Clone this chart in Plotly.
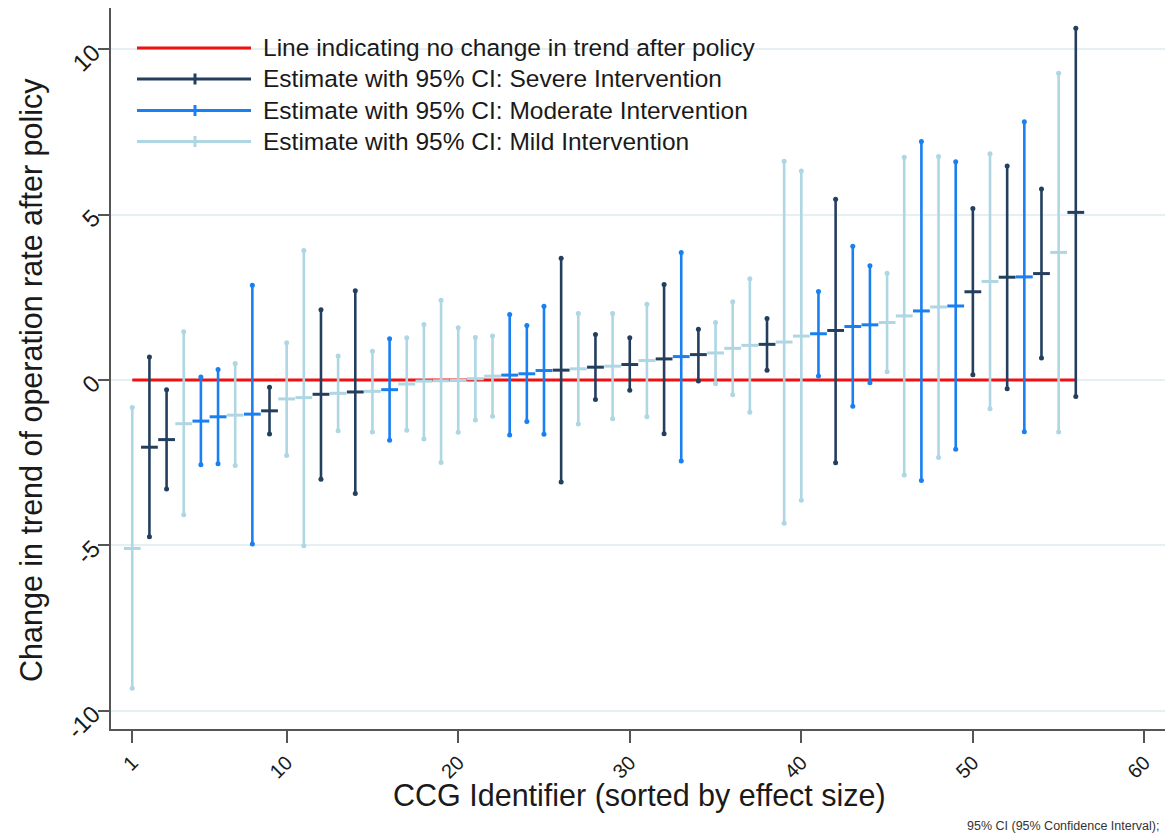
import plotly.graph_objects as go

# CCG-level policy effect estimates with 95% confidence intervals,
# sorted by effect size.
ccg_id = list(range(1, 57))
intensity = [
    "Mild", "Severe", "Severe", "Mild", "Moderate", "Moderate", "Mild", "Moderate",
    "Severe", "Mild", "Mild", "Severe", "Mild", "Severe", "Mild", "Moderate",
    "Mild", "Mild", "Mild", "Mild", "Mild", "Mild", "Moderate", "Moderate",
    "Moderate", "Severe", "Mild", "Severe", "Mild", "Severe", "Mild", "Severe",
    "Moderate", "Severe", "Mild", "Mild", "Mild", "Severe", "Mild", "Mild",
    "Moderate", "Severe", "Moderate", "Moderate", "Mild", "Mild", "Moderate", "Mild",
    "Moderate", "Severe", "Mild", "Severe", "Moderate", "Severe", "Mild", "Severe",
]
estimate = [
    -5.09, -2.03, -1.80, -1.32, -1.24, -1.11, -1.06, -1.03,
    -0.93, -0.57, -0.53, -0.43, -0.40, -0.36, -0.34, -0.29,
    -0.12, -0.03, -0.02, -0.01, 0.04, 0.12, 0.15, 0.19,
    0.29, 0.30, 0.34, 0.39, 0.42, 0.47, 0.59, 0.64,
    0.71, 0.77, 0.82, 0.96, 1.05, 1.08, 1.15, 1.33,
    1.40, 1.50, 1.62, 1.67, 1.74, 1.94, 2.09, 2.21,
    2.24, 2.67, 2.98, 3.11, 3.12, 3.22, 3.86, 5.07,
]
ci_lower = [
    -9.32, -4.74, -3.29, -4.07, -2.56, -2.53, -2.58, -4.96,
    -1.63, -2.28, -5.01, -3.00, -1.53, -3.43, -1.57, -1.82,
    -1.52, -1.78, -2.49, -1.58, -1.21, -1.09, -1.66, -1.25,
    -1.64, -3.08, -1.33, -0.59, -1.17, -0.31, -1.11, -1.62,
    -2.45, -0.03, -0.11, -0.44, -0.97, 0.30, -4.33, -3.63,
    0.12, -2.50, -0.79, -0.08, 0.25, -2.87, -3.04, -2.34,
    -2.09, 0.16, -0.87, -0.26, -1.56, 0.67, -1.57, -0.50,
]
ci_upper = [
    -0.83, 0.70, -0.29, 1.46, 0.09, 0.32, 0.50, 2.87,
    -0.22, 1.13, 3.92, 2.13, 0.73, 2.70, 0.87, 1.25,
    1.28, 1.68, 2.41, 1.58, 1.29, 1.33, 1.98, 1.65,
    2.23, 3.68, 2.01, 1.38, 2.01, 1.28, 2.29, 2.89,
    3.86, 1.54, 1.74, 2.37, 3.06, 1.86, 6.62, 6.32,
    2.68, 5.47, 4.05, 3.46, 3.23, 6.74, 7.21, 6.76,
    6.60, 5.19, 6.84, 6.47, 7.81, 5.78, 9.28, 10.64,
]

y_ticks = [-10, -5, 0, 5, 10]
x_ticks = [1, 10, 20, 30, 40, 50, 60]

group_colors = {
    "Severe": "#243f5e",
    "Moderate": "#1a7ff0",
    "Mild": "#aed6e3",
}
legend_labels = [
    ("Line indicating no change in trend after policy", "#f01010", False),
    ("Estimate with 95% CI: Severe Intervention", group_colors["Severe"], True),
    ("Estimate with 95% CI: Moderate Intervention", group_colors["Moderate"], True),
    ("Estimate with 95% CI: Mild Intervention", group_colors["Mild"], True),
]

FONT = "Liberation Sans, Arial, sans-serif"
TEXT = "#1a1a1a"

fig = go.Figure()

# Reference line at zero across all CCGs
fig.add_trace(go.Scatter(
    x=[ccg_id[0], ccg_id[-1]], y=[0, 0], mode="lines",
    line=dict(color="#f01010", width=3), showlegend=False, hoverinfo="skip",
))

for group in ["Mild", "Moderate", "Severe"]:
    idx = [i for i, g in enumerate(intensity) if g == group]
    xs = [ccg_id[i] for i in idx]
    est = [estimate[i] for i in idx]
    lo = [ci_lower[i] for i in idx]
    hi = [ci_upper[i] for i in idx]
    color = group_colors[group]
    # confidence interval spans with the point estimate as a short dash
    fig.add_trace(go.Scatter(
        x=xs, y=est, mode="markers", showlegend=False,
        marker=dict(symbol="line-ew", size=12, line=dict(color=color, width=3)),
        error_y=dict(type="data", symmetric=False,
                     array=[h - e for h, e in zip(hi, est)],
                     arrayminus=[e - l for e, l in zip(est, lo)],
                     color=color, thickness=2.6, width=0),
    ))
    # small round ends on each interval
    fig.add_trace(go.Scatter(
        x=xs + xs, y=lo + hi, mode="markers", showlegend=False,
        marker=dict(symbol="circle", size=5, color=color),
        hoverinfo="skip",
    ))

# Plot area geometry (pixels) used to lay out the in-plot legend and titles
W, H = 1165, 838
L, R, T, B = 111, 0, 8, 109
pw, ph = W - L - R, H - T - B


def px(xp):
    return (xp - L) / pw


def py(yp):
    return (H - B - yp) / ph


shapes = [dict(type="rect", xref="paper", yref="paper",
               x0=px(126), x1=px(764), y0=py(163), y1=py(28),
               fillcolor="white", line=dict(width=0), layer="between")]
annotations = []
row_y = [48, 79, 110.5, 141.5]
for (label, color, tick), yy in zip(legend_labels, row_y):
    shapes.append(dict(type="line", xref="paper", yref="paper",
                       x0=px(137), x1=px(251), y0=py(yy), y1=py(yy),
                       line=dict(color=color, width=3), layer="above"))
    if tick:
        shapes.append(dict(type="line", xref="paper", yref="paper",
                           x0=px(195), x1=px(195), y0=py(yy - 5.5), y1=py(yy + 5.5),
                           line=dict(color=color, width=3), layer="above"))
    annotations.append(dict(text=label, xref="paper", yref="paper",
                            x=px(261), y=py(yy), xanchor="left", yanchor="middle",
                            showarrow=False, font=dict(family=FONT, size=24.5, color=TEXT)))

# axis titles
annotations.append(dict(text="CCG Identifier (sorted by effect size)", xref="paper", yref="paper",
                        x=px(639), y=py(795), xanchor="center", yanchor="middle",
                        showarrow=False, font=dict(family=FONT, size=30.5, color=TEXT)))
annotations.append(dict(text="Change in trend of operation rate after policy",
                        xref="paper", yref="paper", textangle=-90,
                        x=px(31), y=py(380), xanchor="center", yanchor="middle",
                        showarrow=False, font=dict(family=FONT, size=30.5, color=TEXT)))

annotations.append(dict(text="95% CI (95% Confidence Interval);", xref="paper", yref="paper",
                        x=px(1161), y=py(826), xanchor="right", yanchor="middle",
                        showarrow=False, font=dict(family=FONT, size=12.5, color="#333333")))

fig.update_layout(
    width=W, height=H,
    margin=dict(l=L, r=R, t=T, b=B, autoexpand=False),
    paper_bgcolor="white", plot_bgcolor="white",
    showlegend=False,
    font=dict(family=FONT, color=TEXT),
    shapes=shapes, annotations=annotations,
)
fig.update_xaxes(
    range=[-0.24, 61.2], tickvals=x_ticks, ticktext=[str(v) for v in x_ticks],
    tickangle=-45, tickfont=dict(size=20, color=TEXT),
    ticks="outside", ticklen=12, tickwidth=2, tickcolor="#555555",
    showline=True, linecolor="#555555", linewidth=2, mirror=False,
    showgrid=False, zeroline=False, automargin=False,
)
fig.update_yaxes(
    range=[-10.55, 11.25], tickvals=y_ticks, ticktext=[str(v) for v in y_ticks],
    tickangle=-45, tickfont=dict(size=24, color=TEXT),
    ticks="outside", ticklen=11, tickwidth=2, tickcolor="#555555",
    showline=True, linecolor="#555555", linewidth=2, mirror=False,
    showgrid=True, gridcolor="#e6eff1", gridwidth=2, zeroline=False, automargin=False,
)

fig.write_html("out.html")
